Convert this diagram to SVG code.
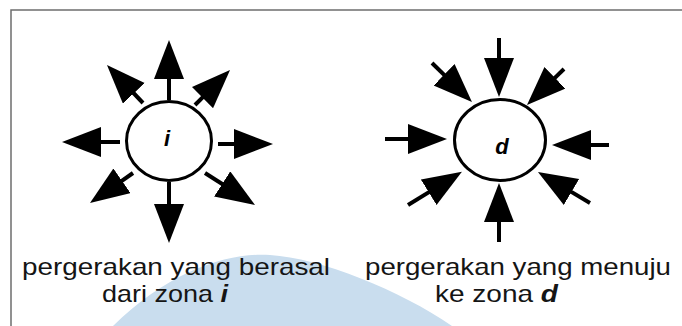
<svg xmlns="http://www.w3.org/2000/svg" width="682" height="326" viewBox="0 0 682 326">
<style>
.frame{fill:none;stroke:#6e6e6e;stroke-width:1.5}
.zone{fill:#fff;stroke:#000;stroke-width:3}
.shaft{stroke:#000;stroke-width:4;fill:none;marker-end:url(#head)}
.cap{font-family:"Liberation Sans",Arial,sans-serif;font-size:24px;fill:#151515}
.lbl{font-family:"Liberation Sans",Arial,sans-serif;font-size:22px;font-weight:bold;font-style:italic;fill:#000;text-anchor:middle}
.bi{font-weight:bold;font-style:italic}
</style>
<defs>
<marker id="head" markerUnits="userSpaceOnUse" markerWidth="42" markerHeight="32" refX="8" refY="15" orient="auto" viewBox="0 0 42 32">
<path d="M0,0 L39,15 L0,30 Z" fill="#000"/>
</marker>
</defs>
<rect width="682" height="326" fill="#fff"/>
<path d="M113,326 C170,270 230,252 270,255 C320,258 400,290 452,326 Z" fill="#c9ddee"/>
<path class="frame" d="M11,326 L11,10 L682,10"/>
<g id="connectors">
<line class="shaft" x1="169" y1="100" x2="169" y2="71"/>
<line class="shaft" x1="169" y1="182" x2="169" y2="212"/>
<line class="shaft" x1="120" y1="142" x2="93" y2="142"/>
<line class="shaft" x1="218" y1="144" x2="242" y2="144"/>
<line class="shaft" x1="143" y1="103" x2="128.3" y2="87.5"/>
<line class="shaft" x1="195" y1="105" x2="208.1" y2="91.9"/>
<line class="shaft" x1="133" y1="173" x2="115.4" y2="185.3"/>
<line class="shaft" x1="205" y1="173" x2="228.9" y2="188.3"/>
<line class="shaft" x1="499" y1="38" x2="499" y2="66"/>
<line class="shaft" x1="499" y1="242" x2="499" y2="214"/>
<line class="shaft" x1="385" y1="139" x2="416" y2="139"/>
<line class="shaft" x1="609" y1="145" x2="583" y2="145"/>
<line class="shaft" x1="432" y1="63" x2="449.8" y2="80.4"/>
<line class="shaft" x1="564" y1="69" x2="549.2" y2="83.4"/>
<line class="shaft" x1="408" y1="205" x2="435.5" y2="188.1"/>
<line class="shaft" x1="590" y1="203" x2="564.6" y2="187.9"/>
</g>
<g id="zone-i">
<ellipse class="zone" cx="169" cy="141" rx="42.5" ry="39.5"/>
<text class="lbl" x="167" y="146">i</text>
</g>
<g id="zone-d">
<ellipse class="zone" cx="500" cy="140" rx="45.5" ry="40.5"/>
<text class="lbl" x="502" y="154">d</text>
</g>
<g id="caption-i">
<text class="cap" x="22" y="275" textLength="308" lengthAdjust="spacingAndGlyphs">pergerakan yang berasal</text>
<text class="cap" x="102" y="302" textLength="126" lengthAdjust="spacingAndGlyphs">dari zona <tspan class="bi">i</tspan></text>
</g>
<g id="caption-d">
<text class="cap" x="365" y="275" textLength="306" lengthAdjust="spacingAndGlyphs">pergerakan yang menuju</text>
<text class="cap" x="435" y="302" textLength="123" lengthAdjust="spacingAndGlyphs">ke zona <tspan class="bi">d</tspan></text>
</g>
</svg>
